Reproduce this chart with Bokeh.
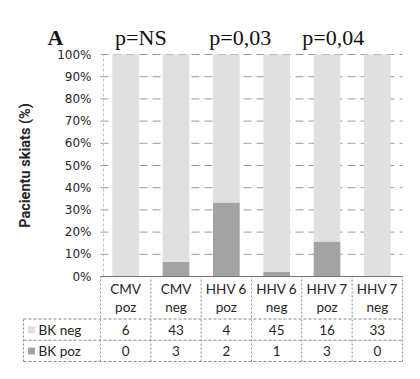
import math
from bokeh.plotting import figure
from bokeh.models import ColumnDataSource, Range1d
from bokeh.core.properties import value
from bokeh.embed import file_html
from bokeh.resources import INLINE

# ---- data ----
categories = ["CMV poz", "CMV neg", "HHV 6 poz", "HHV 6 neg", "HHV 7 poz", "HHV 7 neg"]
bk_neg = [6, 43, 4, 45, 16, 33]
bk_poz = [0, 3, 2, 1, 3, 0]
series_names = ["BK neg", "BK poz"]
p_values = ["p=NS", "p=0,03", "p=0,04"]
y_ticks = [0, 0.1, 0.2, 0.3, 0.4, 0.5, 0.6, 0.7, 0.8, 0.9, 1.0]
panel_letter = "A"
y_label = "Pacientu skiats (%)"

NEG_COLOR = "#e0e0e0"
POZ_COLOR = "#a3a3a3"
TEXT_COLOR = "#262626"
TABLE_LINE = "#8a8a8a"

totals = [n + p for n, p in zip(bk_neg, bk_poz)]
frac_neg = [n / t for n, t in zip(bk_neg, totals)]
frac_poz = [p / t for p, t in zip(bk_poz, totals)]
n = len(categories)
centers = [i + 0.5 for i in range(n)]
src = ColumnDataSource(dict(x=centers, poz=frac_poz, neg=frac_neg))

# ---- pixel geometry of the single canvas ----
W, H = 404, 363
px_x0, px_x1 = 100, 402         # chart x=0 .. x=n
px_top, px_base = 54, 276       # chart y=1 .. y=0
px_tbl_bot = 361                # table bottom (table y=0); table top (y=4) at px_base
ux = (px_x1 - px_x0) / n
uy = (px_base - px_top)
ut = (px_tbl_bot - px_base) / 4.0

x_range = Range1d(-px_x0 / ux, n + (W - px_x1) / ux)
y_range = Range1d(-(H - px_base) / uy, 1 + px_top / uy)
tbl_range = Range1d(-(H - px_tbl_bot) / ut, 4 + px_base / ut)

p = figure(x_range=x_range, y_range=y_range, width=W, height=H,
           output_backend="svg", toolbar_location=None,
           x_axis_type=None, y_axis_type=None,
           min_border_left=0, min_border_right=0, min_border_top=0, min_border_bottom=0)
p.grid.visible = False
p.outline_line_color = None
p.extra_y_ranges = {"tbl": tbl_range}

# grid lines
p.segment(x0=[0] * len(y_ticks), y0=y_ticks, x1=[n] * len(y_ticks), y1=y_ticks,
          line_color="#9a9a9a", line_dash="8 5", line_width=1)
# axis line
p.segment(x0=[0.06], y0=[0], x1=[0.06], y1=[1], line_color="#c4c4c4", line_dash="3 2")

# stacked bars
p.vbar_stack(["poz", "neg"], x="x", width=0.53, color=[POZ_COLOR, NEG_COLOR],
             line_color=None, source=src)

# y tick labels
p.text(x=[-9 / ux] * len(y_ticks), y=y_ticks,
       text=["{:d}%".format(int(round(t * 100))) for t in y_ticks],
       text_align="right", text_baseline="middle", text_font=value("DejaVu Sans"),
       text_font_size="12px", text_color=TEXT_COLOR)
# y axis label
p.text(x=[-75 / ux], y=[0.5], text=[y_label], angle=math.pi / 2,
       text_align="center", text_baseline="middle", text_font=value("Roboto"),
       text_font_style="bold", text_font_size="14.5px", text_color=TEXT_COLOR)

# panel letter and p values
title_y = 1 + 17 / uy
p_value_x = [0.29, 2.16, 4.01]
p.text(x=[-53 / ux], y=[title_y], text=[panel_letter], text_align="left",
       text_baseline="alphabetic", text_font=value("Liberation Serif"),
       text_font_style="bold", text_font_size="22px", text_color="#111111")
p.text(x=p_value_x, y=[title_y] * len(p_values),
       text=p_values, text_align="left", text_baseline="alphabetic",
       text_font=value("Liberation Serif"), text_font_size="22px", text_color="#111111")

# ---- data table ----
tf = value("Lato")
line1 = [c.rsplit(" ", 1)[0] for c in categories]
line2 = [c.rsplit(" ", 1)[1] for c in categories]
common = dict(text_align="center", text_baseline="middle", text_font=tf,
              text_font_size="13.5px", text_color=TEXT_COLOR, y_range_name="tbl")
p.text(x=centers, y=[3.42] * n, text=line1, **common)
p.text(x=centers, y=[2.55] * n, text=line2, **common)
p.text(x=centers, y=[1.5] * n, text=[str(v) for v in bk_neg], **common)
p.text(x=centers, y=[0.5] * n, text=[str(v) for v in bk_poz], **common)

lab_x0 = -77 / ux
p.scatter(x=[lab_x0 + 8 / ux] * 2, y=[1.5, 0.5], marker="square", size=7,
          color=[NEG_COLOR, POZ_COLOR], line_color=None, y_range_name="tbl")
p.text(x=[lab_x0 + 15 / ux] * 2, y=[1.5, 0.5], text=series_names, text_align="left",
       text_baseline="middle", text_font=tf, text_font_size="13.5px", text_color=TEXT_COLOR,
       y_range_name="tbl")

xs = list(range(n + 1))
p.segment(x0=xs, y0=[0] * len(xs), x1=xs, y1=[4] * len(xs),
          line_color=TABLE_LINE, line_dash="2 2", y_range_name="tbl")
p.segment(x0=[lab_x0], y0=[0], x1=[lab_x0], y1=[2], line_color=TABLE_LINE,
          line_dash="2 2", y_range_name="tbl")
p.segment(x0=[lab_x0] * 3, y0=[0, 1, 2], x1=[n] * 3, y1=[0, 1, 2],
          line_color=TABLE_LINE, line_dash="3 2", y_range_name="tbl")
p.segment(x0=[0], y0=[4], x1=[n], y1=[4], line_color="#777777", y_range_name="tbl")

open("out.html", "w").write(file_html(p, INLINE))
